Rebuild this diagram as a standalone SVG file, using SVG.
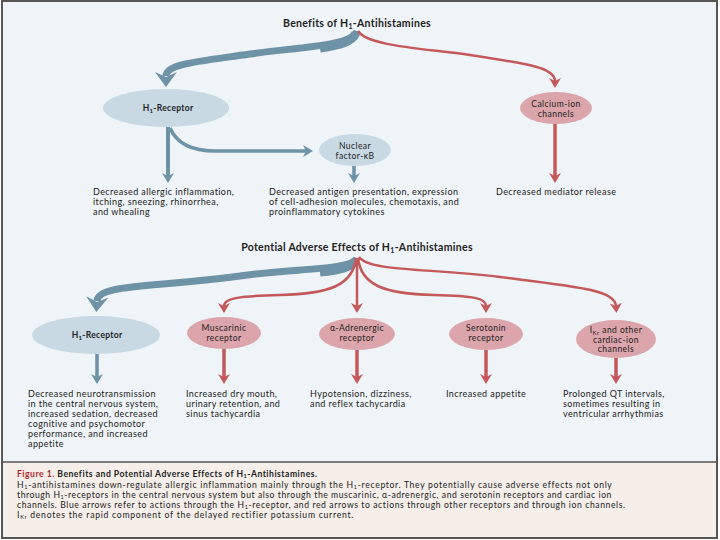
<svg xmlns="http://www.w3.org/2000/svg" width="720" height="540" viewBox="0 0 720 540">
<defs>
<style>
text{font-family:Lato,"Open Sans","Liberation Sans",sans-serif;fill:#222}
.t{font-size:9px;letter-spacing:0.42px}
.h{font-size:10.5px;font-weight:bold;text-anchor:middle;letter-spacing:0.3px}
.n{font-size:8.5px;text-anchor:middle;letter-spacing:0.45px}
.nb{font-size:8.5px;text-anchor:middle;font-weight:bold;letter-spacing:0.3px}
.c{font-size:8.6px}
.blue{fill:none;stroke:#6e92a6}
.red{fill:none;stroke:#c4585b}
.eb{fill:#c8d9e3}
.er{fill:#dca4ab}
</style>
<marker id="mbB" markerUnits="userSpaceOnUse" markerWidth="16" markerHeight="24" viewBox="0 0 16 24" refX="4" refY="12" orient="auto"><path d="M0,1 L15,12 L0,23 L5,12 Z" fill="#6e92a6"/></marker>
<marker id="mb" markerUnits="userSpaceOnUse" markerWidth="12" markerHeight="14" viewBox="0 0 12 14" refX="3" refY="7" orient="auto"><path d="M0,1 L10,7 L0,13 L3,7 Z" fill="#6e92a6"/></marker>
<marker id="mr" markerUnits="userSpaceOnUse" markerWidth="12" markerHeight="14" viewBox="0 0 12 14" refX="3" refY="7" orient="auto"><path d="M0,1 L10,7 L0,13 L3,7 Z" fill="#c4585b"/></marker>
</defs>
<rect x="0" y="0" width="720" height="540" fill="#ffffff"/>
<rect x="2" y="1" width="715" height="461" fill="#eef4f7"/>
<rect x="2" y="462" width="715" height="76" fill="#f5eee9"/>
<rect x="2" y="1" width="715" height="537" fill="none" stroke="#555" stroke-width="2"/>
<line x1="2" y1="462" x2="717" y2="462" stroke="#555" stroke-width="1.5"/>

<g id="connectors">
<path class="blue" stroke-width="7" d="M357,31 C352,46 300,47 250,54 C195,62 166,64 166,76" marker-end="url(#mbB)"/>
<path class="blue" stroke-width="9" d="M356,33 C352,42 340,45 320,48"/>
<path class="red" stroke-width="2.5" d="M358,31 C368,46 420,48 470,55 C530,64 555,68 555,81" marker-end="url(#mr)"/>
<path class="blue" stroke-width="4" d="M168,127 L168,176" marker-end="url(#mb)"/>
<path class="blue" stroke-width="3.5" d="M170,128 C176,142 190,151 215,151 L306,151" marker-end="url(#mb)"/>
<path class="blue" stroke-width="3.5" d="M354,165 L354,176" marker-end="url(#mb)"/>
<path class="red" stroke-width="3.5" d="M555,123 L555,176" marker-end="url(#mr)"/>

<path class="blue" stroke-width="7" d="M357,258 C352,270 300,268 240,276 C150,288 98,284 97,301" marker-end="url(#mbB)"/>
<path class="blue" stroke-width="9" d="M356,260 C352,267 340,270 320,272"/>
<path class="red" stroke-width="2.5" d="M356,258 C353,285 330,294 280,295 C240,296 224,298 224,306" marker-end="url(#mr)"/>
<path class="red" stroke-width="2.5" d="M357,258 L357,306" marker-end="url(#mr)"/>
<path class="red" stroke-width="2.5" d="M358,258 C361,285 384,294 434,295 C474,296 486,298 486,306" marker-end="url(#mr)"/>
<path class="red" stroke-width="2.5" d="M359,257 C370,272 430,268 500,277 C580,287 615,290 616,306" marker-end="url(#mr)"/>
<path class="blue" stroke-width="3.5" d="M97,354 L97,377" marker-end="url(#mb)"/>
<path class="red" stroke-width="3.5" d="M224,349 L224,377" marker-end="url(#mr)"/>
<path class="red" stroke-width="3.5" d="M357,350 L357,377" marker-end="url(#mr)"/>
<path class="red" stroke-width="3.5" d="M486,350 L486,377" marker-end="url(#mr)"/>
<path class="red" stroke-width="3.5" d="M616,357 L616,377" marker-end="url(#mr)"/>
</g>

<g id="title-benefits">
<text class="h" x="357" y="27">Benefits of H<tspan font-size="7" dy="2">1</tspan><tspan dy="-2">-Antihistamines</tspan></text>
</g>
<g id="node-h1-top">
<ellipse class="eb" cx="166" cy="108" rx="63" ry="19"/>
<text class="nb" x="168" y="111">H<tspan font-size="6" dy="2">1</tspan><tspan dy="-2">-Receptor</tspan></text>
</g>
<g id="node-calcium">
<ellipse class="er" cx="556" cy="108" rx="36" ry="16"/>
<text class="n" x="556" y="107">Calcium-ion</text>
<text class="n" x="556" y="117">channels</text>
</g>
<g id="node-nfkb">
<ellipse class="eb" cx="355" cy="150" rx="36" ry="16"/>
<text class="n" x="355" y="149">Nuclear</text>
<text class="n" x="355" y="159">factor-κB</text>
</g>
<g id="text-top-left">
<text class="t" x="93" y="195">Decreased allergic inflammation,</text>
<text class="t" x="93" y="205">itching, sneezing, rhinorrhea,</text>
<text class="t" x="93" y="215">and whealing</text>
</g>
<g id="text-top-mid">
<text class="t" x="269" y="195">Decreased antigen presentation, expression</text>
<text class="t" x="269" y="205">of cell-adhesion molecules, chemotaxis, and</text>
<text class="t" x="269" y="215">proinflammatory cytokines</text>
</g>
<g id="text-top-right">
<text class="t" x="496" y="195">Decreased mediator release</text>
</g>

<g id="title-adverse">
<text class="h" x="357" y="251">Potential Adverse Effects of H<tspan font-size="7" dy="2">1</tspan><tspan dy="-2">-Antihistamines</tspan></text>
</g>
<g id="node-h1-bottom">
<ellipse class="eb" cx="96" cy="335" rx="64" ry="19"/>
<text class="nb" x="97" y="338">H<tspan font-size="6" dy="2">1</tspan><tspan dy="-2">-Receptor</tspan></text>
</g>
<g id="node-muscarinic">
<ellipse class="er" cx="224" cy="333" rx="37" ry="16"/>
<text class="n" x="224" y="331">Muscarinic</text>
<text class="n" x="224" y="341">receptor</text>
</g>
<g id="node-adrenergic">
<ellipse class="er" cx="357" cy="334" rx="38" ry="16"/>
<text class="n" x="357" y="331">α-Adrenergic</text>
<text class="n" x="357" y="341">receptor</text>
</g>
<g id="node-serotonin">
<ellipse class="er" cx="486" cy="334" rx="37" ry="16"/>
<text class="n" x="486" y="331">Serotonin</text>
<text class="n" x="486" y="341">receptor</text>
</g>
<g id="node-ikr">
<ellipse class="er" cx="616" cy="339" rx="40" ry="19"/>
<text class="n" x="616" y="333">I<tspan font-size="6" dy="2">Kr</tspan><tspan dy="-2"> and other</tspan></text>
<text class="n" x="616" y="343">cardiac-ion</text>
<text class="n" x="616" y="352">channels</text>
</g>
<g id="text-bottom-h1">
<text class="t" x="28" y="397">Decreased neurotransmission</text>
<text class="t" x="28" y="407">in the central nervous system,</text>
<text class="t" x="28" y="417">increased sedation, decreased</text>
<text class="t" x="28" y="427">cognitive and psychomotor</text>
<text class="t" x="28" y="437">performance, and increased</text>
<text class="t" x="28" y="447">appetite</text>
</g>
<g id="text-bottom-muscarinic">
<text class="t" x="186" y="397">Increased dry mouth,</text>
<text class="t" x="186" y="407">urinary retention, and</text>
<text class="t" x="186" y="417">sinus tachycardia</text>
</g>
<g id="text-bottom-adrenergic">
<text class="t" x="310" y="397">Hypotension, dizziness,</text>
<text class="t" x="310" y="407">and reflex tachycardia</text>
</g>
<g id="text-bottom-serotonin">
<text class="t" x="446" y="397">Increased appetite</text>
</g>
<g id="text-bottom-ikr">
<text class="t" x="563" y="397">Prolonged QT intervals,</text>
<text class="t" x="563" y="407">sometimes resulting in</text>
<text class="t" x="563" y="417">ventricular arrhythmias</text>
</g>

<g id="caption">
<text class="c" x="17" y="477" font-weight="bold" letter-spacing="0.5"><tspan fill="#b5282e">Figure 1.</tspan> Benefits and Potential Adverse Effects of H<tspan font-size="5.5" dy="0.8">1</tspan><tspan dy="-0.8">-Antihistamines.</tspan></text>
<text class="c" x="17" y="488" letter-spacing="0.68">H<tspan font-size="5.5" dy="0.8">1</tspan><tspan dy="-0.8">-antihistamines down-regulate allergic inflammation mainly through the H</tspan><tspan font-size="5.5" dy="0.8">1</tspan><tspan dy="-0.8">-receptor. They potentially cause adverse effects not only</tspan></text>
<text class="c" x="17" y="498" letter-spacing="0.56">through H<tspan font-size="5.5" dy="0.8">1</tspan><tspan dy="-0.8">-receptors in the central nervous system but also through the muscarinic, α-adrenergic, and serotonin receptors and cardiac ion</tspan></text>
<text class="c" x="17" y="508" letter-spacing="0.6">channels. Blue arrows refer to actions through the H<tspan font-size="5.5" dy="0.8">1</tspan><tspan dy="-0.8">-receptor, and red arrows to actions through other receptors and through ion channels.</tspan></text>
<text class="c" x="17" y="518" letter-spacing="0.75">I<tspan font-size="5.5" dy="0.8">Kr</tspan><tspan dy="-0.8"> denotes the rapid component of the delayed rectifier potassium current.</tspan></text>
</g>
</svg>
